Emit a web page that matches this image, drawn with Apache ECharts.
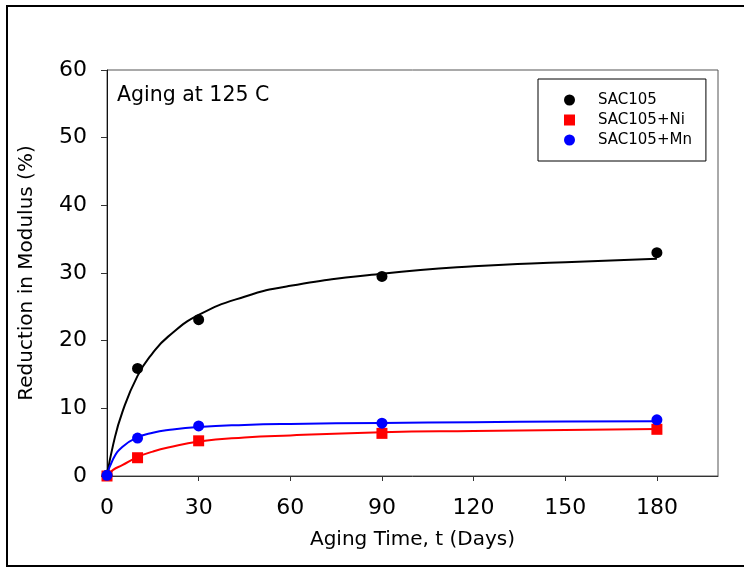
<!DOCTYPE html>
<html>
<head>
<meta charset="utf-8">
<script src="https://cdn.jsdelivr.net/npm/echarts@6/dist/echarts.min.js"></script>
<style>
  html, body { margin: 0; padding: 0; background: #fff; overflow: hidden; }
  #chart { width: 744px; height: 569px; }
</style>
</head>
<body>
<div id="chart"></div>
<script>
// Measured reduction in modulus (%) after aging at 125 C
const agingDays = [0, 10, 30, 90, 180];
const sac105 = [0.1, 15.9, 23.1, 29.5, 33.0];
const sac105Ni = [0.0, 2.7, 5.2, 6.3, 6.9];
const sac105Mn = [0.1, 5.6, 7.4, 7.8, 8.3];

// Fitted trend curves, sampled along the aging time axis
const fitDays = [0, 2, 5, 10, 15, 20, 30, 45, 60, 90, 120, 150, 180];
const sac105Fit = [0, 4.6, 9.4, 14.8, 18.2, 20.6, 23.8, 26.5, 28.1, 29.9, 31.0, 31.6, 32.1];
const sac105NiFit = [0, 0.9, 1.6, 2.8, 3.6, 4.2, 5.1, 5.7, 6.0, 6.45, 6.65, 6.8, 6.95];
const sac105MnFit = [0, 2.5, 4.3, 5.7, 6.4, 6.8, 7.25, 7.55, 7.7, 7.85, 7.95, 8.05, 8.1];

// Axis ticks
const xTicks = [0, 30, 60, 90, 120, 150, 180];
const yTicks = [0, 10, 20, 30, 40, 50, 60];

const FONT = '"DejaVu Sans", Verdana, sans-serif';
const pairs = (xs, ys) => xs.map((x, i) => [x, ys[i]]);

const alloys = [
  { name: 'SAC105', color: '#000000', symbol: 'circle', size: 11, pts: sac105, fit: sac105Fit },
  { name: 'SAC105+Ni', color: '#ff0000', symbol: 'rect', size: 11, pts: sac105Ni, fit: sac105NiFit },
  { name: 'SAC105+Mn', color: '#0000ff', symbol: 'circle', size: 11, pts: sac105Mn, fit: sac105MnFit }
];

const series = [];
alloys.forEach(a => {
  series.push({
    name: a.name + ' fit',
    type: 'line',
    data: pairs(fitDays, a.fit),
    smooth: 0.5,
    showSymbol: false,
    lineStyle: { color: a.color, width: 2 },
    z: 2,
    silent: true
  });
});
alloys.forEach((a, i) => {
  series.push({
    name: a.name,
    type: 'scatter',
    data: pairs(agingDays, a.pts),
    symbol: a.symbol,
    symbolSize: a.size,
    itemStyle: { color: a.color, opacity: 1 },
    clip: false,
    z: 3 + i
  });
});

const chart = echarts.init(document.getElementById('chart'), null, { renderer: 'canvas' });
chart.setOption({
  animation: false,
  backgroundColor: '#ffffff',
  title: {
    text: 'Aging at 125 C',
    left: 117,
    top: 85,
    padding: 0,
    textStyle: { fontFamily: FONT, fontSize: 20.5, fontWeight: 'normal', color: '#000' }
  },
  legend: {
    orient: 'vertical',
    left: 538,
    top: 79,
    padding: [13, 14, 13, 26],
    itemGap: 4,
    itemWidth: 11,
    itemHeight: 11,
    borderColor: '#000',
    borderWidth: 1,
    selectedMode: false,
    textStyle: { fontFamily: FONT, fontSize: 15, color: '#000', padding: [0, 0, 0, 18], lineHeight: 16 },
    data: [
      { name: 'SAC105', icon: 'circle' },
      { name: 'SAC105+Ni', icon: 'rect' },
      { name: 'SAC105+Mn', icon: 'circle' }
    ]
  },
  grid: {
    left: 107,
    top: 70,
    right: 26,
    bottom: 93,
    show: true,
    borderColor: '#555',
    borderWidth: 1,
    containLabel: false
  },
  xAxis: {
    type: 'value',
    min: 0,
    max: 200,
    interval: 30,
    name: 'Aging Time, t (Days)',
    nameLocation: 'middle',
    nameGap: 54,
    nameTextStyle: { fontFamily: FONT, fontSize: 20, color: '#000' },
    axisLine: { show: true, onZero: false, lineStyle: { color: '#333', width: 1 } },
    axisTick: { show: true, inside: false, length: 5, customValues: xTicks, lineStyle: { color: '#333' } },
    axisLabel: { customValues: xTicks, margin: 21, fontFamily: FONT, fontSize: 22, color: '#000' },
    splitLine: { show: false }
  },
  yAxis: {
    type: 'value',
    min: 0,
    max: 60,
    interval: 10,
    name: 'Reduction in Modulus (%)',
    nameLocation: 'middle',
    nameRotate: 90,
    nameGap: 70,
    nameTextStyle: { fontFamily: FONT, fontSize: 20, color: '#000' },
    axisLine: { show: true, onZero: false, lineStyle: { color: '#111', width: 1 } },
    axisTick: { show: true, inside: false, length: 6, customValues: yTicks, lineStyle: { color: '#333' } },
    axisLabel: { customValues: yTicks, margin: 20, fontFamily: FONT, fontSize: 22, color: '#000' },
    splitLine: { show: false }
  },
  graphic: [
    {
      // page frame: left, top and bottom edges
      type: 'polyline',
      silent: true,
      shape: { points: [[760, 6], [7, 6], [7, 566], [760, 566]] },
      style: { fill: 'none', stroke: '#000', lineWidth: 2 }
    }
  ],
  series: series
});
</script>
</body>
</html>
